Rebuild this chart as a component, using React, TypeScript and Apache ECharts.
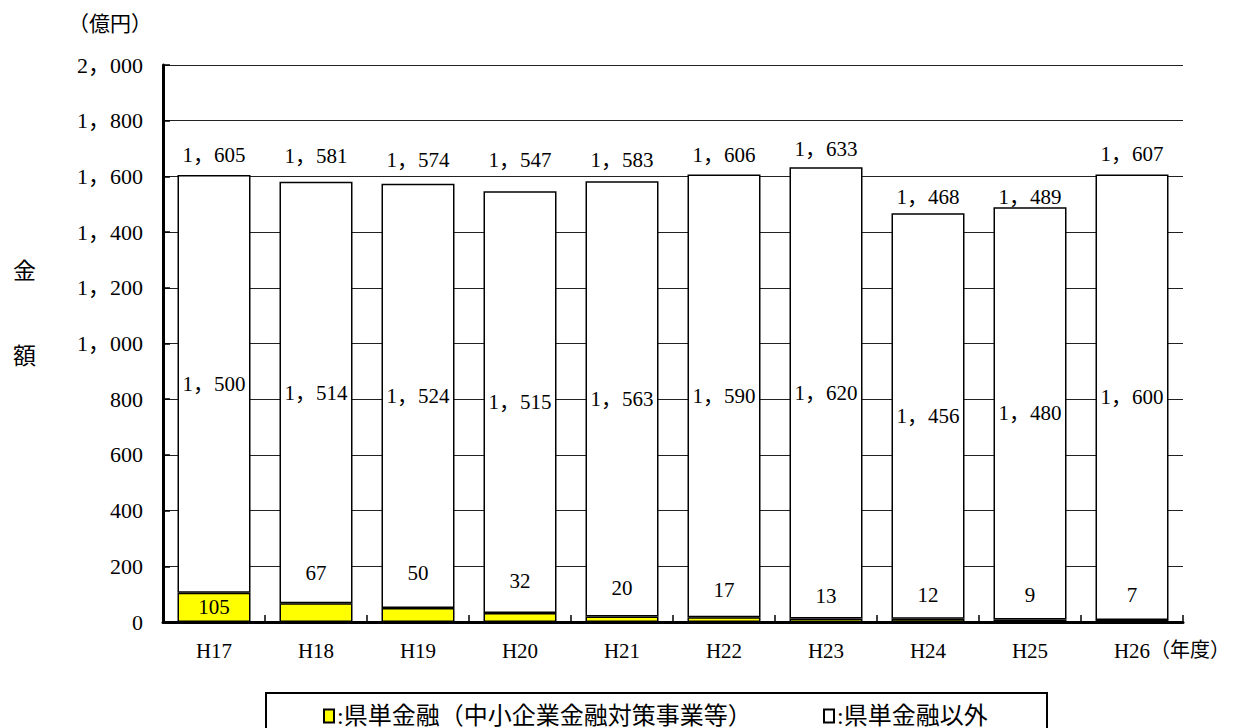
import React, { useEffect, useRef } from "react";
import * as echarts from "echarts";

const categories = ["H17", "H18", "H19", "H20", "H21", "H22", "H23", "H24", "H25", "H26"];
const kentanValues = [105, 67, 50, 32, 20, 17, 13, 12, 9, 7];
const otherValues = [1500, 1514, 1524, 1515, 1563, 1590, 1620, 1456, 1480, 1600];
const totalValues = [1605, 1581, 1574, 1547, 1583, 1606, 1633, 1468, 1489, 1607];
const yTicks = [0, 200, 400, 600, 800, 1000, 1200, 1400, 1600, 1800, 2000];

const seriesNames = ["県単金融（中小企業金融対策事業等）", "県単金融以外"];

// label placement styling (not data)
const smallLabelDistance = [0, 20, 25, 22, 18, 17, 12, 13, 14, 15];
const totalLabelDistance = [10, 15, 13, 21, 11, 9, 8, 6, 0, 10];

const FONT = "'Liberation Serif', 'Noto Sans CJK JP', serif";
const fmt = (v: number) => v.toLocaleString("en-US").replace(/,/g, "，");

export default function App() {
  const ref = useRef<HTMLDivElement>(null);
  useEffect(() => {
    if (!ref.current) return;
    const chart = echarts.init(ref.current, null, { renderer: "svg" });
    const labelText = { color: "#000", fontFamily: FONT, fontSize: 21 };
    chart.setOption({
      animation: false,
      backgroundColor: "#fff",
      grid: { left: 163, right: 51, top: 65, bottom: 106 },
      xAxis: {
        type: "category",
        data: categories,
        axisLine: { show: true, lineStyle: { color: "#000", width: 3 } },
        axisTick: { show: true, inside: true, length: 7, lineStyle: { color: "#000", width: 1.5 } },
        axisLabel: { ...labelText, margin: 18 },
      },
      yAxis: {
        type: "value",
        min: 0,
        max: 2000,
        interval: 200,
        axisLine: { show: true, lineStyle: { color: "#000", width: 3 } },
        axisTick: { show: true, inside: true, length: 7, lineStyle: { color: "#000", width: 1.5 } },
        splitLine: { show: true, lineStyle: { color: "#222", width: 1.2 } },
        axisLabel: {
          ...labelText,
          fontSize: 22,
          margin: 20,
          formatter: (v: number) => (yTicks.includes(v) ? fmt(v) : ""),
        },
      },
      legend: [
        {
          data: [seriesNames[0]],
          left: 318,
          top: 699,
          icon: "rect",
          itemWidth: 10,
          itemHeight: 13,
          textStyle: { color: "#000", fontFamily: FONT, fontSize: 24, padding: [0, 0, 0, -2] },
          formatter: (n: string) => ":" + n,
          selectedMode: false,
        },
        {
          data: [seriesNames[1]],
          left: 818,
          top: 699,
          icon: "rect",
          itemWidth: 10,
          itemHeight: 13,
          textStyle: { color: "#000", fontFamily: FONT, fontSize: 24, padding: [0, 0, 0, -2] },
          formatter: (n: string) => ":" + n,
          selectedMode: false,
        },
      ],
      graphic: [
        {
          type: "rect",
          shape: { x: 266, y: 693, width: 781, height: 60 },
          style: { fill: "none", stroke: "#000", lineWidth: 2 },
        },
        {
          type: "text",
          x: 68,
          y: 13,
          style: { text: "（億円）", fill: "#000", font: `21px ${FONT}` },
        },
        {
          type: "text",
          x: 13,
          y: 260,
          style: { text: "金", fill: "#000", font: `23px ${FONT}` },
        },
        {
          type: "text",
          x: 13,
          y: 345,
          style: { text: "額", fill: "#000", font: `23px ${FONT}` },
        },
        {
          type: "text",
          x: 1150,
          y: 640,
          style: { text: "（年度）", fill: "#000", font: `20px ${FONT}` },
        },
      ],
      series: [
        {
          name: seriesNames[0],
          type: "bar",
          stack: "total",
          barWidth: 73,
          itemStyle: { color: "#FFFF00", borderColor: "#000", borderWidth: 1.5 },
          data: kentanValues.map((v, i) => ({
            value: v,
            label:
              i === 0
                ? { show: true, position: "inside", ...labelText }
                : { show: true, position: "top", distance: smallLabelDistance[i], ...labelText },
          })),
        },
        {
          name: seriesNames[1],
          type: "bar",
          stack: "total",
          barWidth: 73,
          itemStyle: { color: "#FFFFFF", borderColor: "#000", borderWidth: 1.5 },
          label: { show: true, position: "inside", ...labelText, formatter: (p: any) => fmt(p.value) },
          data: otherValues,
        },
        {
          name: "合計",
          type: "scatter",
          symbolSize: 0,
          silent: true,
          itemStyle: { opacity: 1, color: "transparent" },
          data: totalValues.map((v, i) => ({
            value: v,
            label: {
              show: true,
              position: "top",
              distance: totalLabelDistance[i],
              ...labelText,
              formatter: (p: any) => fmt(p.value),
            },
          })),
        },
      ],
    });
    return () => chart.dispose();
  }, []);
  return (
    <div
      ref={ref}
      style={{ position: "fixed", left: 0, top: 0, width: 1234, height: 728, background: "#fff" }}
    />
  );
}
